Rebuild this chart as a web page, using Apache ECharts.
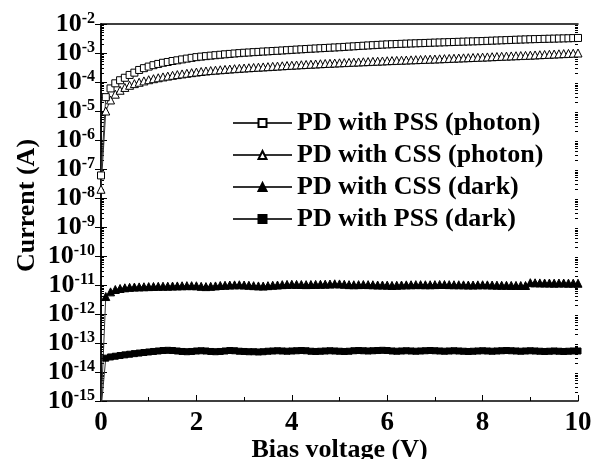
<!DOCTYPE html>
<html>
<head>
<meta charset="utf-8">
<script src="https://cdn.jsdelivr.net/npm/echarts@6.0.0/dist/echarts.min.js"></script>
<style>
html,body{margin:0;padding:0;background:#fff;}
#chart{width:600px;height:459px;}
</style>
</head>
<body>
<div id="chart"></div>
<script>
var voltage = [
0,0.1,0.2,0.3,0.4,0.5,0.6,0.7,0.8,0.9,
1,1.1,1.2,1.3,1.4,1.5,1.6,1.7,1.8,1.9,
2,2.1,2.2,2.3,2.4,2.5,2.6,2.7,2.8,2.9,
3,3.1,3.2,3.3,3.4,3.5,3.6,3.7,3.8,3.9,
4,4.1,4.2,4.3,4.4,4.5,4.6,4.7,4.8,4.9,
5,5.1,5.2,5.3,5.4,5.5,5.6,5.7,5.8,5.9,
6,6.1,6.2,6.3,6.4,6.5,6.6,6.7,6.8,6.9,
7,7.1,7.2,7.3,7.4,7.5,7.6,7.7,7.8,7.9,
8,8.1,8.2,8.3,8.4,8.5,8.6,8.7,8.8,8.9,
9,9.1,9.2,9.3,9.4,9.5,9.6,9.7,9.8,9.9,
10];

var pssPhoton = [
6e-8,3e-5,6e-5,9e-5,1.15e-4,1.4e-4,1.75e-4,2.1e-4,2.6e-4,3.0e-4,
3.4e-4,3.8e-4,4.2e-4,4.6e-4,4.9e-4,5.3e-4,5.6e-4,6.0e-4,6.4e-4,6.8e-4,
7.2e-4,7.5e-4,7.8e-4,8.1e-4,8.4e-4,8.7e-4,9.0e-4,9.3e-4,9.6e-4,9.9e-4,
1.02e-3,1.04e-3,1.07e-3,1.09e-3,1.12e-3,1.14e-3,1.17e-3,1.19e-3,1.22e-3,1.25e-3,
1.28e-3,1.31e-3,1.34e-3,1.37e-3,1.40e-3,1.43e-3,1.46e-3,1.49e-3,1.52e-3,1.55e-3,
1.58e-3,1.62e-3,1.66e-3,1.70e-3,1.74e-3,1.78e-3,1.82e-3,1.86e-3,1.90e-3,1.94e-3,
1.98e-3,2.01e-3,2.04e-3,2.07e-3,2.10e-3,2.13e-3,2.16e-3,2.19e-3,2.22e-3,2.25e-3,
2.28e-3,2.31e-3,2.34e-3,2.37e-3,2.40e-3,2.43e-3,2.46e-3,2.49e-3,2.52e-3,2.55e-3,
2.58e-3,2.62e-3,2.66e-3,2.70e-3,2.74e-3,2.78e-3,2.82e-3,2.86e-3,2.90e-3,2.94e-3,
2.98e-3,3.01e-3,3.04e-3,3.07e-3,3.10e-3,3.13e-3,3.16e-3,3.19e-3,3.22e-3,3.26e-3,
3.30e-3];

var cssPhoton = [
2e-8,1.0e-5,2.4e-5,3.8e-5,5.2e-5,6.5e-5,7.7e-5,8.8e-5,9.8e-5,1.09e-4,
1.2e-4,1.3e-4,1.4e-4,1.5e-4,1.6e-4,1.7e-4,1.8e-4,1.9e-4,2.0e-4,2.1e-4,
2.2e-4,2.3e-4,2.4e-4,2.48e-4,2.56e-4,2.64e-4,2.72e-4,2.80e-4,2.88e-4,2.96e-4,
3.03e-4,3.10e-4,3.17e-4,3.24e-4,3.31e-4,3.38e-4,3.46e-4,3.54e-4,3.62e-4,3.70e-4,
3.78e-4,3.86e-4,3.94e-4,4.02e-4,4.10e-4,4.18e-4,4.26e-4,4.34e-4,4.42e-4,4.50e-4,
4.58e-4,4.66e-4,4.74e-4,4.82e-4,4.90e-4,4.98e-4,5.06e-4,5.14e-4,5.22e-4,5.30e-4,
5.40e-4,5.48e-4,5.56e-4,5.64e-4,5.72e-4,5.80e-4,5.88e-4,5.96e-4,6.04e-4,6.12e-4,
6.20e-4,6.30e-4,6.40e-4,6.50e-4,6.60e-4,6.70e-4,6.80e-4,6.90e-4,7.00e-4,7.10e-4,
7.20e-4,7.32e-4,7.44e-4,7.56e-4,7.68e-4,7.80e-4,7.92e-4,8.04e-4,8.16e-4,8.28e-4,
8.40e-4,8.56e-4,8.72e-4,8.88e-4,9.04e-4,9.20e-4,9.36e-4,9.52e-4,9.68e-4,9.84e-4,
1.0e-3];

var cssDark = [
5e-16,4.0e-12,5.8e-12,7.0e-12,7.6e-12,8.0e-12,8.3e-12,8.5e-12,8.6e-12,8.7e-12,
8.8e-12,8.9e-12,9.0e-12,9.1e-12,9.1e-12,9.2e-12,9.3e-12,9.4e-12,9.5e-12,9.5e-12,
9.4e-12,9.0e-12,8.8e-12,9.0e-12,9.3e-12,9.6e-12,9.8e-12,1.0e-11,1.01e-11,1.02e-11,
1.0e-11,9.8e-12,9.5e-12,9.3e-12,9.2e-12,9.5e-12,9.8e-12,1.0e-11,1.03e-11,1.05e-11,
1.06e-11,1.05e-11,1.04e-11,1.03e-11,1.04e-11,1.05e-11,1.06e-11,1.07e-11,1.08e-11,1.10e-11,
1.09e-11,1.06e-11,1.03e-11,1.02e-11,1.03e-11,1.04e-11,1.03e-11,1.02e-11,1.0e-11,1.0e-11,
9.9e-12,9.7e-12,9.8e-12,1.0e-11,1.01e-11,1.02e-11,1.03e-11,1.03e-11,1.02e-11,1.02e-11,
1.03e-11,1.04e-11,1.04e-11,1.03e-11,1.02e-11,1.02e-11,1.01e-11,1.0e-11,1.0e-11,1.01e-11,
1.02e-11,1.01e-11,1.0e-11,9.9e-12,9.8e-12,9.8e-12,9.7e-12,9.7e-12,9.6e-12,9.6e-12,
1.2e-11,1.19e-11,1.18e-11,1.17e-11,1.17e-11,1.16e-11,1.17e-11,1.17e-11,1.16e-11,1.16e-11,
1.15e-11];

var pssDark = [
5e-16,3.0e-14,3.3e-14,3.5e-14,3.7e-14,3.9e-14,4.1e-14,4.3e-14,4.5e-14,4.7e-14,
4.9e-14,5.1e-14,5.3e-14,5.5e-14,5.6e-14,5.5e-14,5.3e-14,5.1e-14,5.0e-14,5.1e-14,
5.3e-14,5.4e-14,5.3e-14,5.1e-14,5.0e-14,5.1e-14,5.3e-14,5.5e-14,5.4e-14,5.2e-14,
5.1e-14,5.0e-14,5.0e-14,4.9e-14,5.0e-14,5.2e-14,5.3e-14,5.4e-14,5.3e-14,5.2e-14,
5.3e-14,5.4e-14,5.5e-14,5.4e-14,5.2e-14,5.1e-14,5.2e-14,5.3e-14,5.4e-14,5.3e-14,
5.2e-14,5.1e-14,5.2e-14,5.4e-14,5.5e-14,5.4e-14,5.3e-14,5.4e-14,5.5e-14,5.6e-14,
5.5e-14,5.3e-14,5.2e-14,5.3e-14,5.4e-14,5.3e-14,5.2e-14,5.3e-14,5.4e-14,5.5e-14,
5.4e-14,5.3e-14,5.2e-14,5.3e-14,5.4e-14,5.3e-14,5.2e-14,5.1e-14,5.2e-14,5.3e-14,
5.4e-14,5.3e-14,5.2e-14,5.3e-14,5.4e-14,5.5e-14,5.4e-14,5.3e-14,5.2e-14,5.3e-14,
5.4e-14,5.3e-14,5.2e-14,5.1e-14,5.2e-14,5.3e-14,5.2e-14,5.1e-14,5.2e-14,5.3e-14,
5.3e-14];

var seriesNames = ['PD with PSS (photon)','PD with CSS (photon)','PD with CSS (dark)','PD with PSS (dark)'];
var xTitle = 'Bias voltage (V)';
var yTitle = 'Current (A)';
var yMin = 1e-15, yMax = 1e-2;

// log-spaced minor tick positions (2..9 x 10^k) for the y axes
var yMinorTicks = [];
for (var k = -15; k <= -3; k++) {
  for (var m = 2; m <= 9; m++) yMinorTicks.push(Number(m + 'e' + k));
}

function pairs(ys){ return voltage.map(function(v,i){ return [v, ys[i]]; }); }

var FONT = '"Liberation Serif","Times New Roman",serif';
var chart = echarts.init(document.getElementById('chart'), null, {renderer:'canvas'});

var lineStyle = {color:'#333', width:1};
function mk(name, ys, symbol, size, fill){
  return {
    name:name, type:'line', data:pairs(ys), symbol:symbol, symbolSize:size,
    xAxisIndex:0, yAxisIndex:0,
    showAllSymbol:true, clip:true, animation:false,
    lineStyle:lineStyle,
    itemStyle:{color:fill, borderColor:'#000', borderWidth:1}
  };
}

var yLabelFmt = function(v){
  var e = Math.round(Math.log10(v));
  return '{b|10}{s|' + e + '}';
};

function minorAxis(pos){
  return {
    type:'log', logBase:10, min:yMin, max:yMax, position:pos,
    axisLine:{show:false},
    axisTick:{show:true, inside:true, length:3, customValues:yMinorTicks, lineStyle:{color:'#000', width:1}},
    axisLabel:{show:false}, splitLine:{show:false}, minorTick:{show:false}
  };
}

var option = {
  animation:false,
  backgroundColor:'#fff',
  grid:{left:101, right:22, top:24, bottom:58, containLabel:false, outerBoundsMode:'none'},
  legend:{
    orient:'vertical', left:232, top:110, padding:0, itemWidth:59, itemHeight:10, itemGap:6,
    textStyle:{fontFamily:FONT, fontWeight:'bold', fontSize:26, color:'#000', lineHeight:26},
    data:seriesNames
  },
  xAxis:[{
    type:'value', min:0, max:10, interval:2, position:'bottom',
    name:xTitle, nameLocation:'middle', nameGap:36, nameMoveOverlap:false,
    nameTextStyle:{fontFamily:FONT, fontWeight:'bold', fontSize:26, color:'#000'},
    axisLine:{lineStyle:{color:'#000', width:1.5}},
    axisTick:{inside:true, length:6, lineStyle:{color:'#000', width:1}},
    minorTick:{show:true, splitNumber:2, length:4, lineStyle:{color:'#000', width:1}},
    splitLine:{show:false},
    axisLabel:{fontFamily:FONT, fontWeight:'bold', fontSize:27, color:'#000', margin:9}
  },{
    type:'value', min:0, max:10, interval:2, position:'top',
    axisLine:{show:true, lineStyle:{color:'#000', width:1.5}},
    axisTick:{show:false}, axisLabel:{show:false}, splitLine:{show:false}
  }],
  yAxis:[{
    type:'log', logBase:10, min:yMin, max:yMax, interval:1, position:'left',
    name:yTitle, nameLocation:'middle', nameGap:61, nameRotate:90, nameMoveOverlap:false,
    nameTextStyle:{fontFamily:FONT, fontWeight:'bold', fontSize:26, color:'#000', padding:[0,0,0,14]},
    axisLine:{show:true, lineStyle:{color:'#000', width:1.5}},
    axisTick:{inside:true, length:6, lineStyle:{color:'#000', width:1}},
    minorTick:{show:false},
    splitLine:{show:false},
    axisLabel:{
      formatter:yLabelFmt, margin:6, interval:0, showMinLabel:true, showMaxLabel:true,
      rich:{
        b:{fontFamily:FONT, fontWeight:'bold', fontSize:26, color:'#000', lineHeight:26},
        s:{fontFamily:FONT, fontWeight:'bold', fontSize:16, color:'#000', lineHeight:16, verticalAlign:'top'}
      }
    }
  },{
    type:'log', logBase:10, min:yMin, max:yMax, interval:1, position:'right',
    axisLine:{show:true, lineStyle:{color:'#000', width:1.5}},
    axisTick:{inside:true, length:6, lineStyle:{color:'#000', width:1}},
    minorTick:{show:false},
    splitLine:{show:false}, axisLabel:{show:false}
  },
  minorAxis('left'),
  minorAxis('right')
  ],
  series:[
    mk(seriesNames[3], pssDark, 'rect', 6, '#000'),
    mk(seriesNames[2], cssDark, 'triangle', 8, '#000'),
    mk(seriesNames[1], cssPhoton, 'triangle', 8, '#fff'),
    mk(seriesNames[0], pssPhoton, 'rect', 7, '#fff')
  ]
};
chart.setOption(option);
</script>
</body>
</html>
